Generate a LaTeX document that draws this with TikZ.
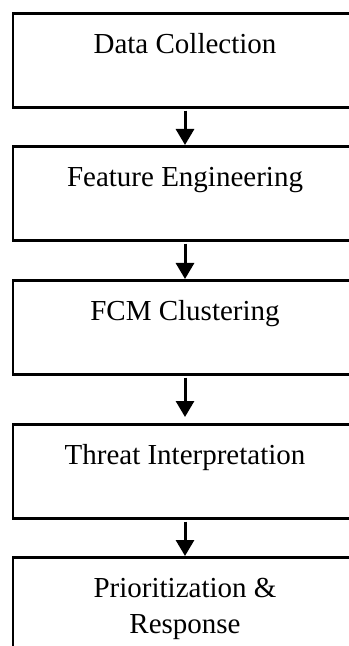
\documentclass[tikz,border=0pt]{standalone}
\usepackage{fontspec}
\setmainfont{Liberation Serif}
\usetikzlibrary{positioning,arrows.meta}
\begin{document}
\begin{tikzpicture}[>={Triangle[width=9pt,length=8pt]},
  stage/.style={draw, line width=1.3pt, minimum width=172pt, inner sep=0pt,
    text height=20pt, text depth=27pt, align=center,
    font=\fontsize{14.5}{18}\selectfont},
  flow/.style={->, line width=1.5pt, shorten <=1pt}]
  \useasboundingbox (0,0) rectangle (174pt,-323pt);
  % stages, top to bottom
  \node[stage, anchor=north] (collect) at (92.5pt,-6pt) {Data Collection};
  \node[stage, below=18.2pt of collect] (feature) {Feature Engineering};
  \node[stage, below=18.7pt of feature] (fcm) {FCM Clustering};
  \node[stage, below=23.7pt of fcm] (threat) {Threat Interpretation};
  \node[stage, below=18.2pt of threat, text height=38pt, text depth=9pt] (respond)
    {Prioritization \&\\Response};
  % arrows
  \draw[flow] (collect) -- (feature);
  \draw[flow] (feature) -- (fcm);
  \draw[flow, shorten >=3pt] (fcm) -- (threat);
  \draw[flow] (threat) -- (respond);
\end{tikzpicture}
\end{document}
